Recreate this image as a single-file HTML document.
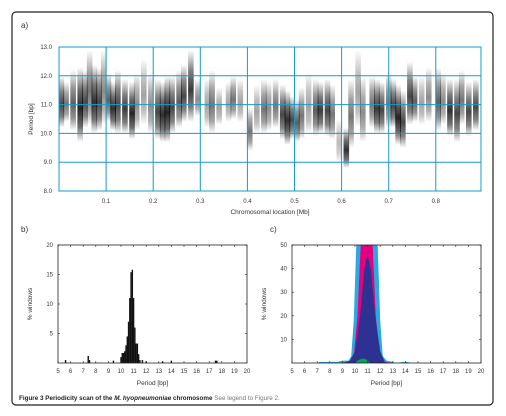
<!DOCTYPE html>
<html><head><meta charset="utf-8">
<style>
body{margin:0;background:#fff;width:506px;height:416px;overflow:hidden;font-family:"Liberation Sans",sans-serif;}
svg{display:block}
text{font-family:"Liberation Sans",sans-serif;fill:#333}
</style></head>
<body>
<svg id="fig" width="506" height="416" viewBox="0 0 506 416">
<defs>
<linearGradient id="colg" x1="0" y1="0" x2="0" y2="1">
<stop offset="0" stop-color="#000" stop-opacity="0"/>
<stop offset="0.3" stop-color="#000" stop-opacity="0.6"/>
<stop offset="0.55" stop-color="#000" stop-opacity="0.9"/>
<stop offset="0.8" stop-color="#000" stop-opacity="0.6"/>
<stop offset="1" stop-color="#000" stop-opacity="0"/>
</linearGradient>
</defs>
<rect x="12" y="12" width="481" height="393" rx="4" fill="none" stroke="#222" stroke-width="1.2"/>
<text x="21" y="28" font-size="8">a)</text>
<text x="21" y="232" font-size="8">b)</text>
<text x="270" y="232" font-size="8">c)</text>
<g id="pa"></g>
<g id="pb"></g>
<g id="pc"></g>
<text x="19" y="400" font-size="6.3"><tspan font-weight="bold" fill="#222">Figure 3 Periodicity scan of the <tspan font-style="italic">M. hyopneumoniae</tspan> chromosome</tspan><tspan fill="#777"> See legend to Figure 2.</tspan></text>
</svg>
<script>
const NS='http://www.w3.org/2000/svg';
function mk(p,t,a){const e=document.createElementNS(NS,t);for(const k in a)e.setAttribute(k,a[k]);p.appendChild(e);return e;}

// Panel a data
const colPos=[0.005,0.015,0.03,0.045,0.055,0.065,0.075,0.085,0.095,0.105,0.115,0.125,0.14,0.155,0.165,0.18,0.195,0.21,0.22,0.23,0.24,0.255,0.265,0.28,0.295,0.315,0.325,0.34,0.36,0.37,0.385,0.405,0.42,0.435,0.445,0.46,0.475,0.485,0.495,0.505,0.515,0.53,0.545,0.555,0.57,0.58,0.595,0.61,0.62,0.635,0.645,0.665,0.675,0.685,0.70,0.71,0.72,0.73,0.745,0.755,0.77,0.785,0.805,0.815,0.83,0.845,0.855,0.87,0.885];
const colLo=[10.2,10.4,10.1,9.7,10.2,10.3,10.0,10.1,10.3,10.4,10.1,10.0,10.0,9.8,10.1,10.3,10.0,9.8,9.7,9.7,10.0,10.2,10.4,10.4,10.6,10.2,10.0,10.3,10.4,10.5,10.4,9.4,10.0,10.0,10.1,10.2,9.8,9.6,9.8,9.7,9.8,10.0,9.9,10.0,9.9,9.8,9.0,8.8,9.5,10.2,9.7,10.2,10.0,10.0,10.2,10.2,9.6,9.5,10.3,10.4,10.3,10.4,10.1,10.3,9.9,9.7,10.3,9.9,10.1];
const colHi=[12.0,11.8,12.2,12.3,12.2,12.9,12.4,12.3,12.9,12.1,11.8,12.2,11.9,11.8,12.1,12.6,12.1,11.9,11.8,12.0,12.0,12.2,12.4,12.9,11.9,11.9,12.2,11.6,11.8,12.0,11.9,10.9,11.7,11.9,11.8,11.9,11.7,11.5,11.3,11.2,11.6,12.1,11.9,11.8,11.9,11.7,10.5,10.2,11.9,12.9,12.0,12.0,11.9,11.8,12.1,11.9,11.7,11.5,12.5,12.0,12.0,12.3,12.3,12.1,11.9,11.9,12.2,11.8,11.9];
const colDark=[0.8,0.6,0.7,0.95,0.8,0.6,0.9,0.8,0.5,0.7,0.9,0.8,0.85,0.95,0.5,0.4,0.5,0.8,0.9,0.95,0.8,0.7,0.8,0.85,0.5,0.4,0.6,0.4,0.4,0.6,0.4,0.6,0.4,0.6,0.5,0.6,0.8,0.9,0.8,0.7,0.6,0.4,0.7,0.85,0.8,0.6,0.3,0.9,0.6,0.4,0.5,0.6,0.85,0.8,0.6,0.8,0.95,0.8,0.8,0.7,0.4,0.5,0.7,0.5,0.9,0.8,0.6,0.8,0.8];
const aXTicks=[0.1,0.2,0.3,0.4,0.5,0.6,0.7,0.8];
const aYTicks=[8.0,9.0,10.0,11.0,12.0,13.0];

// Panel b data
const histX=[5.6,7.4,7.5,9.4,10.0,10.1,10.2,10.3,10.4,10.5,10.6,10.7,10.8,10.9,11.0,11.1,11.2,11.3,11.4,11.5,11.7,12.0,13.3,14.0,17.5,17.6];
const histY=[0.5,1.2,0.5,0.4,1.0,1.7,1.7,2.0,3.0,4.5,7.0,11.0,15.4,15.8,11.0,6.0,3.3,3.3,1.5,0.5,0.5,0.3,0.3,0.4,0.4,0.4];
const periodTicks=[5,6,7,8,9,10,11,12,13,14,15,16,17,18,19,20];
const bYTicks=[5,10,15,20];
const cYTicks=[10,20,30,40,50];

// Panel c data
const cyanX=[7,7.2,8.6,9,9.5,9.7,9.9,10.1,11.8,12.0,12.2,12.5,13,13.2,13.9,14.1,14.5,15];
const cyanY=[0,0.5,0.5,1,1,3,18,50,50,18,3,1,0.5,0,0.5,0.5,0,0];
const magX=[9,9.6,9.9,10.2,10.45,11.4,11.65,11.95,12.4,13];
const magY=[0,0.5,3,20,50,50,20,3,0.5,0];
const navyX=[9.0,9.6,10.0,10.4,10.75,11.0,11.25,11.6,12.0,12.4];
const navyY=[0,1,5,20,40,46,40,20,5,0];
const greenX=[10.0,10.2,10.5,10.8,11.0,11.2];
const greenY=[0,1,1.8,1.8,1,0];

// Panel a
const pa=document.getElementById('pa');
const aL=59,aR=481,aT=47,aB=191;
const ax=v=>aL+v/0.1*47.1, ay=v=>aB-(v-8)/5*(aB-aT);
colPos.forEach((p,i)=>{
 const r=mk(pa,'rect',{x:ax(p)-2.8,y:ay(colHi[i]),width:5.6,height:ay(colLo[i])-ay(colHi[i]),fill:'url(#colg)',opacity:colDark[i]});
 
 
});
aXTicks.forEach(t=>{
 const l=mk(pa,'line',{x1:ax(t),x2:ax(t),y1:aT,y2:aB,stroke:'#1a9ac8','stroke-width':1});
 
 const tx=mk(pa,'text',{x:ax(t),y:203,'font-size':6,'text-anchor':'middle'});tx.textContent=t.toFixed(1);
 
});
aYTicks.forEach(t=>{
 if(t>8&&t<13){const l=mk(pa,'line',{x1:aL,x2:aR,y1:ay(t),y2:ay(t),stroke:'#1a9ac8','stroke-width':1});
 }
 const tx=mk(pa,'text',{x:52,y:ay(t)+2,'font-size':6,'text-anchor':'end'});tx.textContent=t.toFixed(1);
 
});
const fa=mk(pa,'rect',{x:aL,y:aT,width:aR-aL,height:aB-aT,fill:'none',stroke:'#1a9ac8','stroke-width':1});

let t1=mk(pa,'text',{x:270,y:214,'font-size':6.5,'text-anchor':'middle'});t1.textContent='Chromosomal location [Mb]';

t1=mk(pa,'text',{x:0,y:0,'font-size':6.5,'text-anchor':'middle',transform:'translate(33,119) rotate(-90)'});t1.textContent='Period [bp]';


// shared axis helpers for b, c
const bT=245,bB=363;
function axes(g,L,R,ymax,yt){
 const sx=v=>L+(v-5)/15*(R-L), sy=v=>bB-v/ymax*(bB-bT);
 const f=mk(g,'rect',{x:L,y:bT,width:R-L,height:bB-bT,fill:'none',stroke:'#222','stroke-width':0.8});
 
 periodTicks.forEach(t=>{
  mk(g,'line',{x1:sx(t),x2:sx(t),y1:bB,y2:bB-2,stroke:'#222','stroke-width':0.6});
  mk(g,'line',{x1:sx(t),x2:sx(t),y1:bT,y2:bT+2,stroke:'#222','stroke-width':0.6});
  const tx=mk(g,'text',{x:sx(t),y:bB+10,'font-size':6,'text-anchor':'middle'});tx.textContent=t;
  
 });
 yt.forEach(t=>{
  mk(g,'line',{x1:L,x2:L+2,y1:sy(t),y2:sy(t),stroke:'#222','stroke-width':0.6});
  mk(g,'line',{x1:R,x2:R-2,y1:sy(t),y2:sy(t),stroke:'#222','stroke-width':0.6});
  const tx=mk(g,'text',{x:L-5,y:sy(t)+2,'font-size':6,'text-anchor':'end'});tx.textContent=t;
  
 });
 let a=mk(g,'text',{x:(L+R)/2,y:bB+22,'font-size':6.5,'text-anchor':'middle'});a.textContent='Period [bp]';
 
 a=mk(g,'text',{x:0,y:0,'font-size':6.5,'text-anchor':'middle',transform:`translate(${L-26},${(bT+bB)/2}) rotate(-90)`});a.textContent='% windows';
 
 return [sx,sy];
}
// Panel b
const pb=document.getElementById('pb');
const [bx,by]=[v=>58+(v-5)/15*189, v=>bB-v/20*(bB-bT)];
histX.forEach((x,i)=>{
 const r=mk(pb,'rect',{x:bx(x)-0.7,y:by(histY[i]),width:1.4,height:bB-by(histY[i]),fill:'#111'});
 
});
axes(pb,58,247,20,bYTicks);

// Panel c
const pc=document.getElementById('pc');
const cx=v=>292+(v-5)/15*189, cy=v=>bB-v/50*(bB-bT);
function area(X,Y,col,name){
 let d=`M${cx(X[0])},${bB}`;X.forEach((x,i)=>d+=`L${cx(x)},${cy(Y[i])}`);d+=`L${cx(X[X.length-1])},${bB}Z`;
 const p=mk(pc,'path',{d:d,fill:col});
 
}
area(cyanX,cyanY,'#29aae2','cyan-area');
area(magX,magY,'#e4007f','magenta-area');
area(navyX,navyY,'#2e3192','navy-area');
area(greenX,greenY,'#00a651','green-area');
axes(pc,292,481,50,cYTicks);
</script>
</body></html>
